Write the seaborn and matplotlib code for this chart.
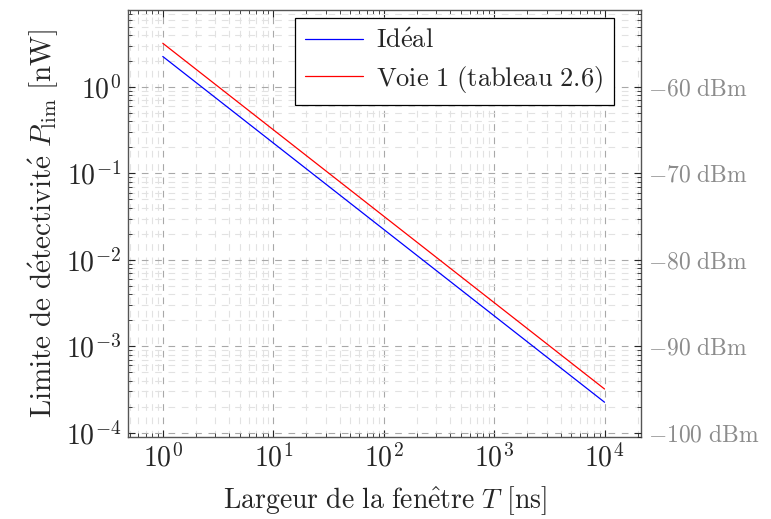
import numpy as np
import matplotlib
matplotlib.use("Agg")
import matplotlib.pyplot as plt
import matplotlib.ticker as mticker
import seaborn as sns
import pandas as pd

# Données (T en ns, P_lim en nW)
T_ns = [1, 10, 100, 1000, 10000]
p_ideal = [2.25, 0.225, 0.0225, 0.00225, 0.000225]
p_voie1 = [3.2, 0.32, 0.032, 0.0032, 0.00032]
series = [r"$\mathrm{Id\acute{e}al}$", r"$\mathrm{Voie\ 1\ (tableau\ 2.6)}$"]
dbm_ticks = [1, 0.1, 0.01, 0.001, 0.0001]
dbm_labels = [r"$-60\ \mathrm{dBm}$", r"$-70\ \mathrm{dBm}$", r"$-80\ \mathrm{dBm}$",
              r"$-90\ \mathrm{dBm}$", r"$-100\ \mathrm{dBm}$"]

sns.set_style("white")
plt.rcParams["font.family"] = ["cmr10", "DejaVu Serif"]
plt.rcParams["mathtext.fontset"] = "cm"
plt.rcParams["axes.formatter.use_mathtext"] = True

df = pd.DataFrame({
    "T": T_ns * 2,
    "P": p_ideal + p_voie1,
    "serie": [series[0]] * len(T_ns) + [series[1]] * len(T_ns),
})

fig = plt.figure(figsize=(7.71, 5.19), dpi=100)
ax = fig.add_axes([128 / 771, 1 - 437 / 519, (641 - 128) / 771, (437 - 10) / 519])

sns.lineplot(data=df, x="T", y="P", hue="serie",
             palette={series[0]: "#0000ff", series[1]: "#ff0000"},
             linewidth=0.9, ax=ax)
ax.set_xscale("log")
ax.set_yscale("log")
ax.set_xlim(10 ** -0.315, 10 ** 4.33)
ax.set_ylim(10 ** -4.05, 10 ** 0.89)

ax.xaxis.set_major_locator(mticker.LogLocator(base=10, numticks=10))
ax.xaxis.set_minor_locator(mticker.LogLocator(base=10, subs=np.arange(2, 10), numticks=10))
ax.yaxis.set_major_locator(mticker.LogLocator(base=10, numticks=10))
ax.yaxis.set_minor_locator(mticker.LogLocator(base=10, subs=np.arange(2, 10), numticks=10))

ax.grid(True, which="major", color="#a8a8a8", linestyle=(0, (6, 6)), linewidth=0.8)
ax.grid(True, which="minor", color="#e2e2e2", linestyle=(0, (6, 6)), linewidth=0.8)

ax.tick_params(axis="both", which="major", direction="in", length=5, width=0.8,
               labelsize=20, top=True, right=False, bottom=True, left=True, pad=5)
ax.tick_params(axis="both", which="minor", direction="in", length=3, width=0.6,
               top=True, bottom=True, left=True)
for s in ax.spines.values():
    s.set_color("#555555")
    s.set_linewidth(1.0)

ax.set_xlabel(r"$\mathrm{Largeur\ de\ la\ fen\hat{e}tre}\ T\ [\mathrm{ns}]$", fontsize=20, labelpad=8)
ax.set_ylabel(r"$\mathrm{Limite\ de\ d\acute{e}tectivit\acute{e}}\ P_{\mathrm{lim}}\ [\mathrm{nW}]$",
              fontsize=21, labelpad=4)

# axe de droite en dBm
ax2 = ax.twinx()
ax2.set_yscale("log")
ax2.set_ylim(ax.get_ylim())
ax2.set_yticks(dbm_ticks)
ax2.set_yticklabels(dbm_labels)
ax2.yaxis.set_minor_locator(mticker.LogLocator(base=10, subs=np.arange(2, 10), numticks=10))
ax2.yaxis.set_minor_formatter(mticker.NullFormatter())
ax2.tick_params(axis="y", which="major", direction="in", length=5, width=0.8,
                labelsize=17, labelcolor="#8c8c8c", pad=5)
ax2.tick_params(axis="y", which="minor", direction="in", length=3, width=0.6)
for s in ax2.spines.values():
    s.set_visible(False)

handles, labels = ax.get_legend_handles_labels()
leg = ax.legend(handles, labels, loc="upper right", fontsize=19, frameon=True,
                fancybox=False, edgecolor="black", framealpha=1,
                borderpad=0.4, handlelength=2.2, labelspacing=0.4,
                handletextpad=0.5, borderaxespad=0,
                bbox_to_anchor=(0.947, 0.981))
leg.get_frame().set_linewidth(0.9)

fig.savefig("out.png", dpi=100)
